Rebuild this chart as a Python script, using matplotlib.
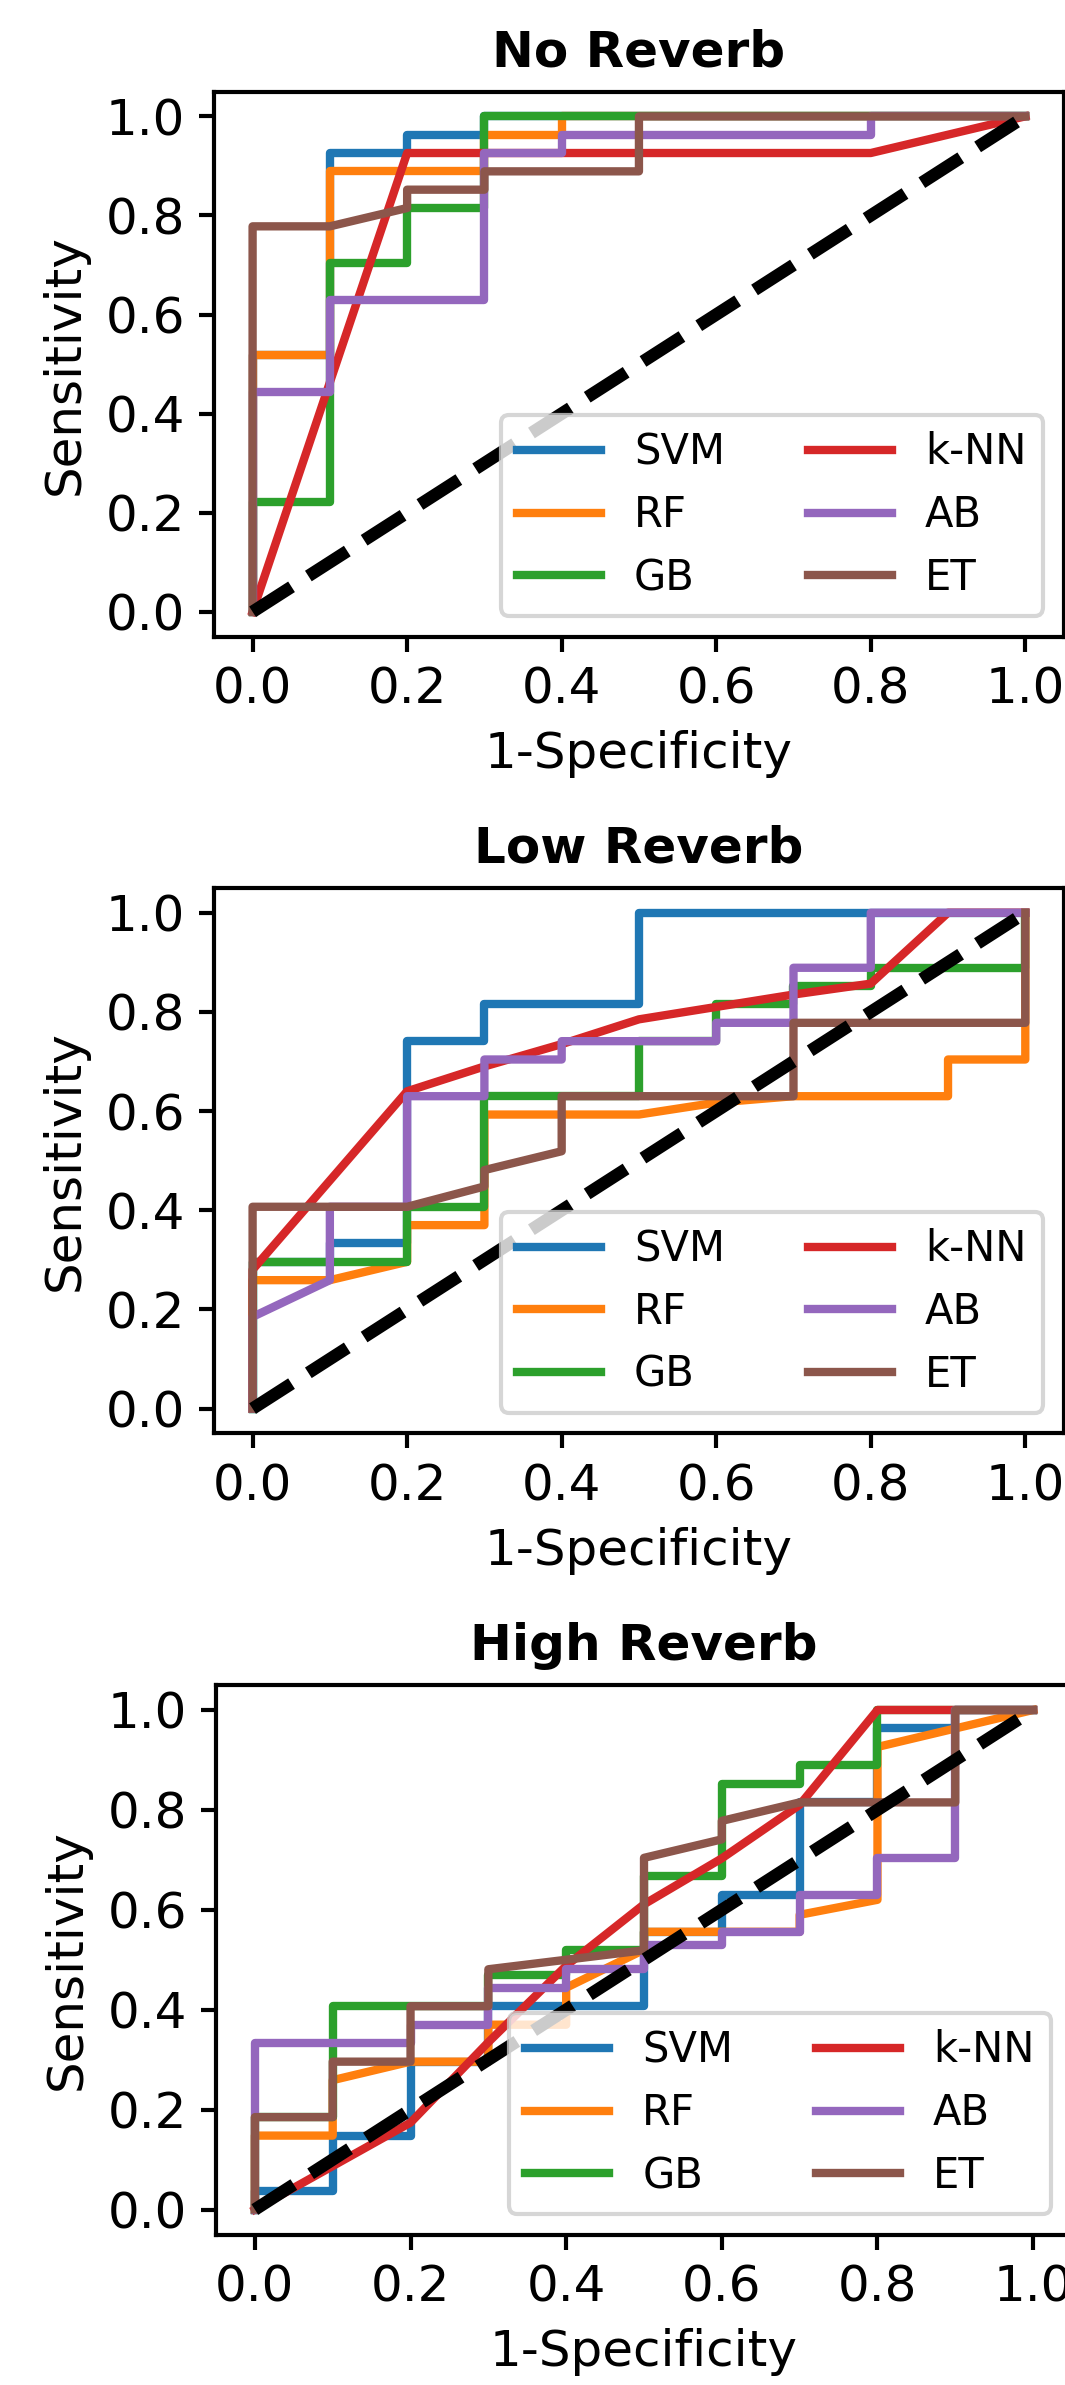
import numpy as np
import matplotlib
matplotlib.use("Agg")
import matplotlib.pyplot as plt

# ======================================================================
# Data (ROC points)
# ======================================================================
MODELS = ["SVM", "RF", "GB", "k-NN", "AB", "ET"]
COLORS = ["tab:blue", "tab:orange", "tab:green", "tab:red", "tab:purple", "tab:brown"]
TITLES = ["No Reverb", "Low Reverb", "High Reverb"]

# --- No Reverb ---
no_svm_fpr = [0, 0, 0.1, 0.1, 0.2, 0.2, 0.3, 0.3, 1.0]
no_svm_tpr = [0, 0.519, 0.519, 0.926, 0.926, 0.963, 0.963, 1.0, 1.0]
no_rf_fpr = [0, 0, 0.1, 0.1, 0.3, 0.3, 0.4, 0.4, 1.0]
no_rf_tpr = [0, 0.519, 0.519, 0.889, 0.889, 0.963, 0.963, 1.0, 1.0]
no_gb_fpr = [0, 0, 0.1, 0.1, 0.2, 0.2, 0.3, 0.3, 1.0]
no_gb_tpr = [0, 0.222, 0.222, 0.704, 0.704, 0.815, 0.815, 1.0, 1.0]
no_knn_fpr = [0, 0.2, 0.8, 1.0]
no_knn_tpr = [0, 0.926, 0.926, 1.0]
no_ab_fpr = [0, 0, 0.1, 0.1, 0.3, 0.3, 0.4, 0.4, 0.8, 0.8, 1.0]
no_ab_tpr = [0, 0.444, 0.444, 0.63, 0.63, 0.926, 0.926, 0.963, 0.963, 1.0, 1.0]
no_et_fpr = [0, 0, 0.1, 0.2, 0.2, 0.3, 0.3, 0.5, 0.5, 1.0]
no_et_tpr = [0, 0.778, 0.778, 0.815, 0.852, 0.852, 0.889, 0.889, 1.0, 1.0]

# --- Low Reverb ---
low_svm_fpr = [0, 0, 0.1, 0.1, 0.2, 0.2, 0.3, 0.3, 0.5, 0.5, 1.0]
low_svm_tpr = [0, 0.296, 0.296, 0.333, 0.333, 0.741, 0.741, 0.815, 0.815, 1.0, 1.0]
low_rf_fpr = [0, 0, 0.1, 0.2, 0.2, 0.3, 0.3, 0.5, 0.6, 0.7, 0.9, 0.9, 1.0, 1.0]
low_rf_tpr = [0, 0.259, 0.259, 0.296, 0.37, 0.37, 0.593, 0.593, 0.617, 0.63, 0.63, 0.704, 0.704, 1.0]
low_gb_fpr = [0, 0, 0.2, 0.2, 0.3, 0.3, 0.5, 0.5, 0.6, 0.6, 0.7, 0.7, 0.8, 0.8, 1.0, 1.0]
low_gb_tpr = [0, 0.296, 0.296, 0.407, 0.407, 0.63, 0.63, 0.741, 0.741, 0.815, 0.815, 0.852, 0.852, 0.889, 0.889, 1.0]
low_knn_fpr = [0, 0, 0.2, 0.3, 0.4, 0.5, 0.6, 0.7, 0.8, 0.9, 1.0]
low_knn_tpr = [0, 0.28, 0.64, 0.69, 0.735, 0.785, 0.81, 0.835, 0.857, 1.0, 1.0]
low_ab_fpr = [0, 0, 0.1, 0.1, 0.2, 0.2, 0.3, 0.3, 0.4, 0.4, 0.6, 0.6, 0.7, 0.7, 0.8, 0.8, 1.0]
low_ab_tpr = [0, 0.185, 0.259, 0.407, 0.407, 0.63, 0.63, 0.704, 0.704, 0.741, 0.741, 0.778, 0.778, 0.889, 0.889, 1.0, 1.0]
low_et_fpr = [0, 0, 0.2, 0.3, 0.3, 0.4, 0.4, 0.7, 0.7, 1.0, 1.0]
low_et_tpr = [0, 0.407, 0.407, 0.448, 0.481, 0.519, 0.63, 0.63, 0.778, 0.778, 1.0]

# --- High Reverb ---
high_svm_fpr = [0, 0, 0.1, 0.1, 0.2, 0.2, 0.3, 0.3, 0.5, 0.5, 0.6, 0.6, 0.7, 0.7, 0.8, 0.8, 0.9, 0.9, 1.0]
high_svm_tpr = [0, 0.037, 0.037, 0.148, 0.148, 0.296, 0.296, 0.407, 0.407, 0.556, 0.556, 0.63, 0.63, 0.815, 0.815, 0.963, 0.963, 1.0, 1.0]
high_rf_fpr = [0, 0, 0.1, 0.1, 0.2, 0.3, 0.3, 0.4, 0.4, 0.5, 0.5, 0.7, 0.7, 0.8, 0.8, 0.9, 1.0]
high_rf_tpr = [0, 0.148, 0.148, 0.259, 0.296, 0.296, 0.37, 0.37, 0.444, 0.52, 0.556, 0.556, 0.59, 0.62, 0.926, 0.963, 1.0]
high_gb_fpr = [0, 0, 0.1, 0.1, 0.3, 0.3, 0.4, 0.4, 0.5, 0.5, 0.6, 0.6, 0.7, 0.7, 0.8, 0.8, 1.0]
high_gb_tpr = [0, 0.185, 0.185, 0.407, 0.407, 0.47, 0.47, 0.519, 0.519, 0.667, 0.667, 0.852, 0.852, 0.889, 0.889, 1.0, 1.0]
high_knn_fpr = [0, 0.2, 0.3, 0.4, 0.5, 0.6, 0.7, 0.8, 1.0]
high_knn_tpr = [0, 0.174, 0.335, 0.488, 0.611, 0.703, 0.81, 1.0, 1.0]
high_ab_fpr = [0, 0, 0.2, 0.2, 0.3, 0.3, 0.4, 0.4, 0.5, 0.5, 0.6, 0.6, 0.7, 0.7, 0.8, 0.8, 0.9, 0.9, 1.0]
high_ab_tpr = [0, 0.333, 0.333, 0.37, 0.37, 0.444, 0.444, 0.481, 0.481, 0.53, 0.53, 0.556, 0.556, 0.63, 0.63, 0.704, 0.704, 1.0, 1.0]
high_et_fpr = [0, 0, 0.1, 0.1, 0.2, 0.2, 0.3, 0.3, 0.5, 0.5, 0.6, 0.6, 0.7, 0.9, 0.9, 1.0]
high_et_tpr = [0, 0.185, 0.185, 0.296, 0.296, 0.407, 0.407, 0.481, 0.519, 0.704, 0.741, 0.778, 0.815, 0.815, 1.0, 1.0]

PANELS = [
    [(no_svm_fpr, no_svm_tpr), (no_rf_fpr, no_rf_tpr), (no_gb_fpr, no_gb_tpr),
     (no_knn_fpr, no_knn_tpr), (no_ab_fpr, no_ab_tpr), (no_et_fpr, no_et_tpr)],
    [(low_svm_fpr, low_svm_tpr), (low_rf_fpr, low_rf_tpr), (low_gb_fpr, low_gb_tpr),
     (low_knn_fpr, low_knn_tpr), (low_ab_fpr, low_ab_tpr), (low_et_fpr, low_et_tpr)],
    [(high_svm_fpr, high_svm_tpr), (high_rf_fpr, high_rf_tpr), (high_gb_fpr, high_gb_tpr),
     (high_knn_fpr, high_knn_tpr), (high_ab_fpr, high_ab_tpr), (high_et_fpr, high_et_tpr)],
]

# ======================================================================
# Figure layout (axes placed by hand to match the stacked panels)
# ======================================================================
plt.rcParams['axes.linewidth'] = 1.0
plt.rcParams['xtick.major.width'] = 1.0
plt.rcParams['ytick.major.width'] = 1.0

fig = plt.figure(figsize=(3.55, 7.95), dpi=300)
rects = [
    [0.2009, 0.7331, 0.7981, 0.2285],
    [0.2009, 0.3990, 0.7981, 0.2287],
    [0.2028, 0.0631, 0.8038, 0.2304],
]

for rect, title, curves in zip(rects, TITLES, PANELS):
    ax = fig.add_axes(rect)
    for (fpr, tpr), name, col in zip(curves, MODELS, COLORS):
        ax.plot(fpr, tpr, color=col, lw=2, label=name)
    ax.plot([0, 1], [0, 1], 'k--', lw=3)

    ax.set_xlim(-0.05, 1.05)
    ax.set_ylim(-0.05, 1.05)
    ax.set_xticks(np.arange(0, 1.01, 0.2))
    ax.set_yticks(np.arange(0, 1.01, 0.2))
    ax.tick_params(labelsize=12)
    ax.set_xlabel('1-Specificity', fontsize=12)
    ax.set_ylabel('Sensitivity', fontsize=12)
    ax.set_title(title, fontsize=12, fontweight='bold')
    ax.legend(loc='lower right', ncol=2, fontsize=10)

fig.savefig("out.png", dpi=300)
